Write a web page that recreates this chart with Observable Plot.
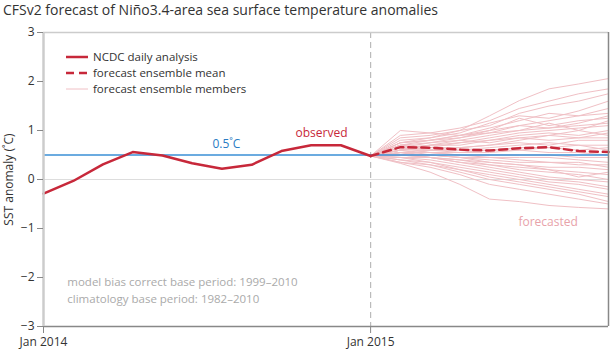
<!DOCTYPE html>
<html><head><meta charset="utf-8">
<script src="https://cdn.jsdelivr.net/npm/d3@7"></script>
<script src="https://cdn.jsdelivr.net/npm/@observablehq/plot@0.6"></script>
<style>
body{margin:0;background:#fff;font-family:"Open Sans",sans-serif;}
#title{height:20px;line-height:20px;font-size:14px;color:#333;padding-left:3px;white-space:nowrap;}
svg text{font-family:"Open Sans",sans-serif;}
</style></head><body>
<div id="title">CFSv2 forecast of Niño3.4-area sea surface temperature anomalies</div>
<div id="chart"></div>
<script>
// x positions are month indices: 0 = Jan 2014, 11 = Jan 2015
const observedX = [0,1,2,3,4,5,6,7,8,9,10,11];
const observedY = [-0.29,-0.03,0.31,0.56,0.49,0.33,0.22,0.30,0.58,0.70,0.70,0.48];
const forecastX = [11,12,13,14,15,16,17,18,19];
const meanY = [0.48,0.66,0.65,0.61,0.59,0.64,0.66,0.58,0.56];
const members = [
  [0.48,0.75,0.85,1.00,1.30,1.61,1.85,1.95,2.06],
  [0.48,0.90,0.95,1.05,1.20,1.45,1.60,1.75,1.85],
  [0.48,0.85,0.90,1.00,1.10,1.35,1.50,1.60,1.75],
  [0.48,0.80,0.85,0.95,1.15,1.30,1.25,1.40,1.60],
  [0.48,0.70,0.80,0.90,1.05,1.20,1.35,1.30,1.45],
  [0.47,0.75,0.80,0.85,0.95,1.10,1.20,1.30,1.35],
  [0.48,0.65,0.75,0.85,1.00,1.10,1.05,1.15,1.30],
  [0.48,0.70,0.75,0.80,0.90,1.00,1.15,1.00,1.20],
  [0.48,0.60,0.70,0.75,0.85,0.95,1.00,1.05,1.10],
  [0.48,0.65,0.70,0.70,0.80,0.90,0.95,0.90,1.00],
  [0.48,0.60,0.65,0.75,0.80,0.85,0.80,0.85,0.95],
  [0.48,0.70,0.65,0.65,0.70,0.80,0.90,0.85,0.85],
  [0.48,0.55,0.60,0.65,0.70,0.75,0.70,0.80,0.80],
  [0.48,0.65,0.60,0.60,0.65,0.70,0.75,0.70,0.70],
  [0.48,0.60,0.60,0.55,0.60,0.65,0.65,0.60,0.65],
  [0.48,0.55,0.55,0.55,0.55,0.60,0.55,0.55,0.50],
  [0.48,0.65,0.55,0.50,0.50,0.50,0.50,0.45,0.45],
  [0.48,0.55,0.50,0.45,0.45,0.45,0.45,0.40,0.35],
  [0.48,0.50,0.50,0.45,0.40,0.35,0.35,0.30,0.30],
  [0.48,0.60,0.50,0.45,0.35,0.30,0.25,0.25,0.20],
  [0.48,0.50,0.45,0.40,0.35,0.30,0.20,0.15,0.10],
  [0.48,0.45,0.45,0.35,0.30,0.20,0.15,0.10,0.00],
  [0.48,0.55,0.45,0.35,0.25,0.15,0.05,0.00,-0.05],
  [0.48,0.45,0.40,0.30,0.20,0.10,0.00,-0.05,-0.15],
  [0.48,0.40,0.35,0.25,0.15,0.05,-0.05,-0.10,-0.20],
  [0.48,0.45,0.35,0.20,0.10,0.00,-0.10,-0.20,-0.30],
  [0.48,0.40,0.30,0.20,0.05,-0.05,-0.15,-0.25,-0.35],
  [0.48,0.35,0.30,0.15,0.00,-0.10,-0.20,-0.30,-0.45],
  [0.48,0.33,0.15,-0.10,-0.40,-0.45,-0.53,-0.57,-0.60],
  [0.48,0.35,0.25,0.10,-0.10,-0.20,-0.30,-0.40,-0.50],
  [0.48,0.75,0.80,0.90,1.00,1.25,1.10,1.20,1.25],
  [0.48,0.60,0.70,0.80,0.75,0.85,0.90,1.00,0.90],
  [0.48,0.50,0.60,0.60,0.60,0.60,0.65,0.70,0.60],
  [0.48,0.55,0.55,0.50,0.45,0.40,0.35,0.35,0.25],
  [0.48,0.50,0.45,0.40,0.30,0.25,0.20,0.05,0.15],
  [0.48,1.00,0.95,0.90,0.95,1.00,1.05,1.10,1.15]
];
const yTicks = [-3,-2,-1,0,1,2,3];
const xTicks = [0,11];
const xTickLabels = ["Jan 2014","Jan 2015"];
const threshold = 0.5;

const observed = observedX.map((x,i)=>({x, y: observedY[i]}));
const mean = forecastX.map((x,i)=>({x, y: meanY[i]}));
const memberRows = members.flatMap((m,k)=>m.map((y,i)=>({member:k, x: forecastX[i], y})));

const RED = "#c7283a";
const fmt = d => d < 0 ? "\u2212" + Math.abs(d) : String(d);

const chart = Plot.plot({
  width: 610, height: 332,
  marginLeft: 43, marginRight: 2, marginTop: 12, marginBottom: 26,
  x: {domain: [0,19]},
  y: {domain: [-3,3]},
  style: {fontSize: "12px", color: "#333", background: "#fff"},
  marks: [
    Plot.ruleY([0], {stroke: "#dddddd", strokeWidth: 1}),
    Plot.ruleX([11], {stroke: "#bbbbbb", strokeWidth: 1.2, strokeDasharray: "6,4"}),
    Plot.line(memberRows, {x: "x", y: "y", z: "member", stroke: "#f0c0c5", strokeWidth: 1}),
    Plot.ruleY([threshold], {x1: 0, x2: 19, stroke: "#3a8fd6", strokeWidth: 1.5}),
    Plot.line(mean, {x: "x", y: "y", stroke: RED, strokeWidth: 2.5, strokeDasharray: "8,5"}),
    Plot.line(observed, {x: "x", y: "y", stroke: RED, strokeWidth: 2.5}),
    Plot.ruleY([3], {stroke: "#cccccc", strokeWidth: 1.5}),
    Plot.ruleY([-3], {stroke: "#888888", strokeWidth: 1.5}),
    Plot.ruleX([19], {stroke: "#888888", strokeWidth: 1.5}),
    Plot.ruleX([0], {stroke: "#cccccc", strokeWidth: 2.5}),
    Plot.axisY({ticks: yTicks, tickFormat: fmt, tickSize: 6, tickPadding: 3, stroke: "#888", fill: "#333",
      label: "SST anomaly (˚C)", labelAnchor: "center", labelArrow: "none", labelOffset: 39}),
    Plot.axisX({ticks: xTicks, tickFormat: (d)=>xTickLabels[xTicks.indexOf(d)], tickSize: 7, tickPadding: 4, stroke: "#888", fill: "#333", label: null}),
    Plot.text(["0.5˚C"], {x: 6.15, y: threshold, dy: -11, fill: "#2a7cc4", fontSize: 12}),
    Plot.text(["observed"], {x: 9.35, y: 0.70, dy: -12, fill: RED, fontSize: 12}),
    Plot.text(["forecasted"], {x: 16.97, y: -0.88, fill: "#e8a3aa", fontSize: 12}),
    Plot.text(["model bias correct base period: 1999\u20132010", "climatology base period: 1982\u20132010"],
      {x: 0.8, y: [-2.1, -2.44], text: d => d, textAnchor: "start", fill: "#aaaaaa", fontSize: 11.5})
  ]
});
document.getElementById("chart").appendChild(chart);

// legend overlay
const svg = d3.select(chart);
const legend = [
  {label: "NCDC daily analysis", stroke: RED, width: 2.5, dash: null},
  {label: "forecast ensemble mean", stroke: RED, width: 2.5, dash: "8,5"},
  {label: "forecast ensemble members", stroke: "#f0c0c5", width: 1, dash: null}
];
const g = svg.append("g").attr("transform", "translate(66,37)").attr("text-anchor", "start");
legend.forEach((d,i)=>{
  g.append("line").attr("x1",0).attr("x2",22).attr("y1",i*16).attr("y2",i*16)
    .attr("stroke",d.stroke).attr("stroke-width",d.width).attr("stroke-dasharray",d.dash);
  g.append("text").attr("x",27).attr("y",i*16).attr("dy","0.35em").attr("fill","#333")
    .attr("text-anchor","start").attr("font-size",11.5).text(d.label);
});
</script>
</body></html>
